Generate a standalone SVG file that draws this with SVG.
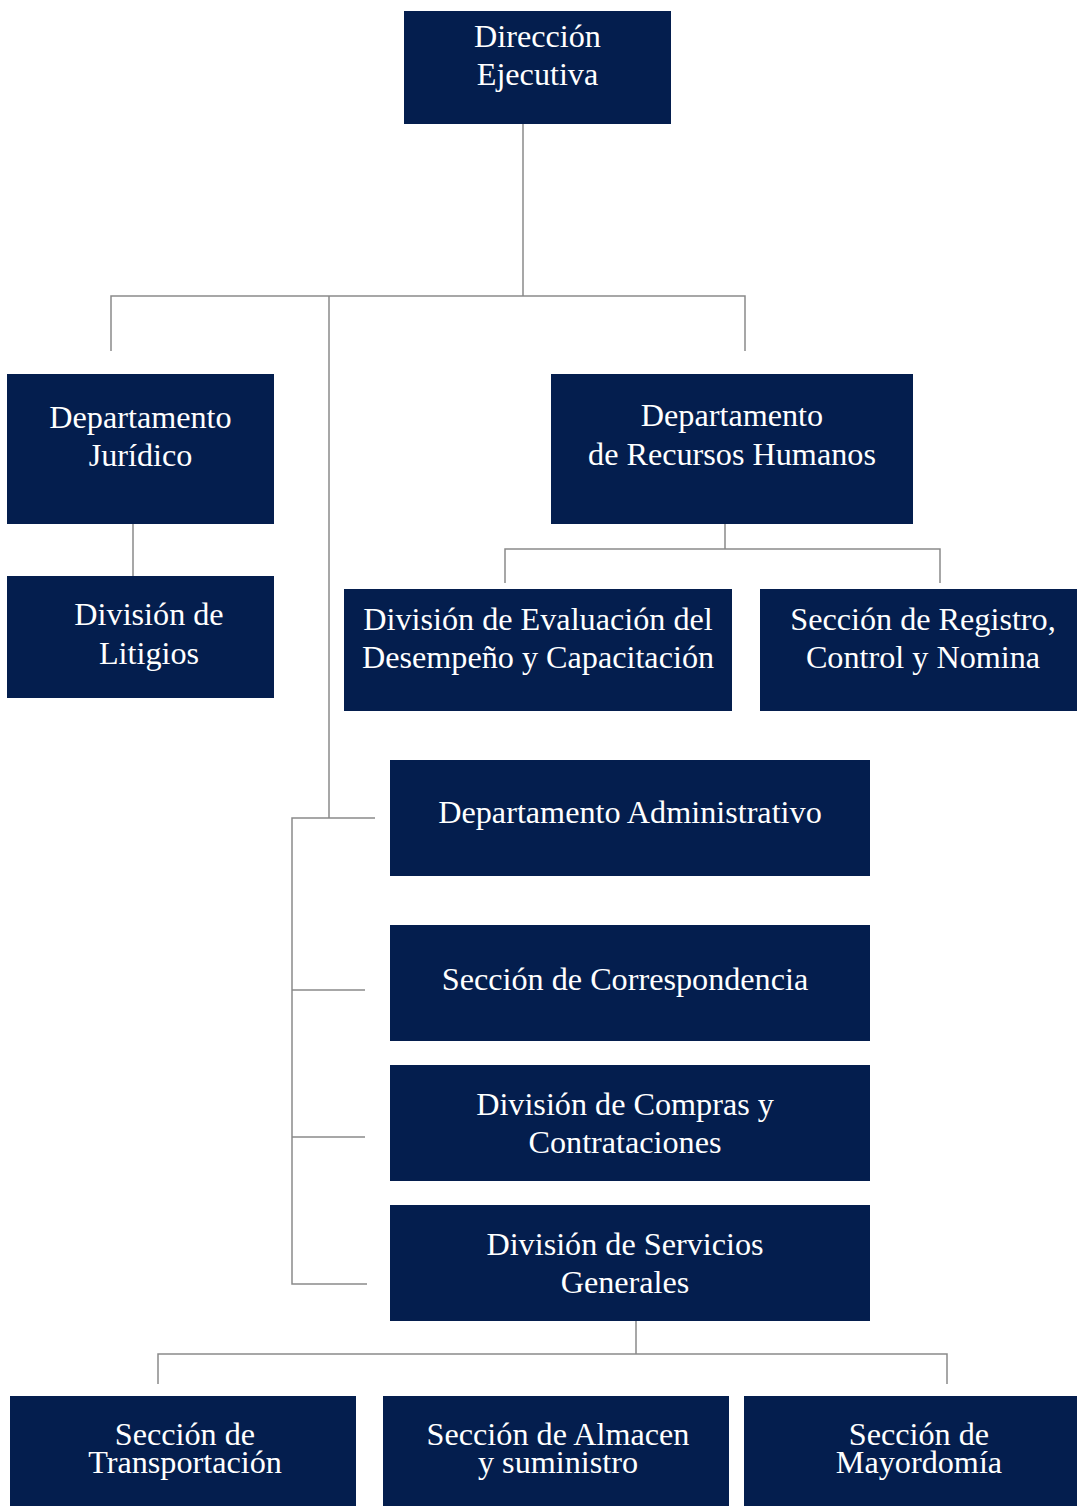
<svg xmlns="http://www.w3.org/2000/svg" width="1077" height="1506" viewBox="0 0 1077 1506">
<style>
.b{fill:#041e4e}
.t{font-family:"Liberation Serif","Times New Roman",serif;font-size:32.2px;fill:#ffffff;text-anchor:middle}
.c{stroke:#8a8a8a;stroke-width:1.5;fill:none}
</style>
<rect width="1077" height="1506" fill="#ffffff"/>
<g id="connectors">
<path class="c" d="M523,124V296M111,351V296H745V351M329,296V818M375,818H292V1284H367M292,990H365M292,1137H365"/>
<path class="c" d="M133,524V576"/>
<path class="c" d="M725,524V549M505,583V549H940V583"/>
<path class="c" d="M636,1321V1354M158,1384V1354H947V1384"/>
</g>
<g id="n1"><rect class="b" x="404" y="11" width="267" height="113"/><text class="t" x="537.5" y="47">Dirección</text><text class="t" x="537.5" y="85">Ejecutiva</text></g>
<g id="n2"><rect class="b" x="7" y="374" width="267" height="150"/><text class="t" x="140.5" y="428">Departamento</text><text class="t" x="140.5" y="466">Jurídico</text></g>
<g id="n3"><rect class="b" x="7" y="576" width="267" height="122"/><text class="t" x="149" y="625">División de</text><text class="t" x="149" y="664">Litigios</text></g>
<g id="n4"><rect class="b" x="551" y="374" width="362" height="150"/><text class="t" x="732" y="426">Departamento</text><text class="t" x="732" y="465">de Recursos Humanos</text></g>
<g id="n5"><rect class="b" x="344" y="589" width="388" height="122"/><text class="t" x="538" y="630">División de Evaluación del</text><text class="t" x="538" y="668">Desempeño y Capacitación</text></g>
<g id="n6"><rect class="b" x="760" y="589" width="317" height="122"/><text class="t" x="923" y="630">Sección de Registro,</text><text class="t" x="923" y="668">Control y Nomina</text></g>
<g id="n7"><rect class="b" x="390" y="760" width="480" height="116"/><text class="t" x="630" y="823">Departamento Administrativo</text></g>
<g id="n8"><rect class="b" x="390" y="925" width="480" height="116"/><text class="t" x="625" y="990">Sección de Correspondencia</text></g>
<g id="n9"><rect class="b" x="390" y="1065" width="480" height="116"/><text class="t" x="625" y="1115">División de Compras y</text><text class="t" x="625" y="1153">Contrataciones</text></g>
<g id="n10"><rect class="b" x="390" y="1205" width="480" height="116"/><text class="t" x="625" y="1255">División de Servicios</text><text class="t" x="625" y="1293">Generales</text></g>
<g id="n11"><rect class="b" x="10" y="1396" width="346" height="110"/><text class="t" x="185" y="1445">Sección de</text><text class="t" x="185" y="1473">Transportación</text></g>
<g id="n12"><rect class="b" x="383" y="1396" width="346" height="110"/><text class="t" x="558" y="1445">Sección de Almacen</text><text class="t" x="558" y="1473">y suministro</text></g>
<g id="n13"><rect class="b" x="744" y="1396" width="333" height="110"/><text class="t" x="919" y="1445">Sección de</text><text class="t" x="919" y="1473">Mayordomía</text></g>
</svg>
